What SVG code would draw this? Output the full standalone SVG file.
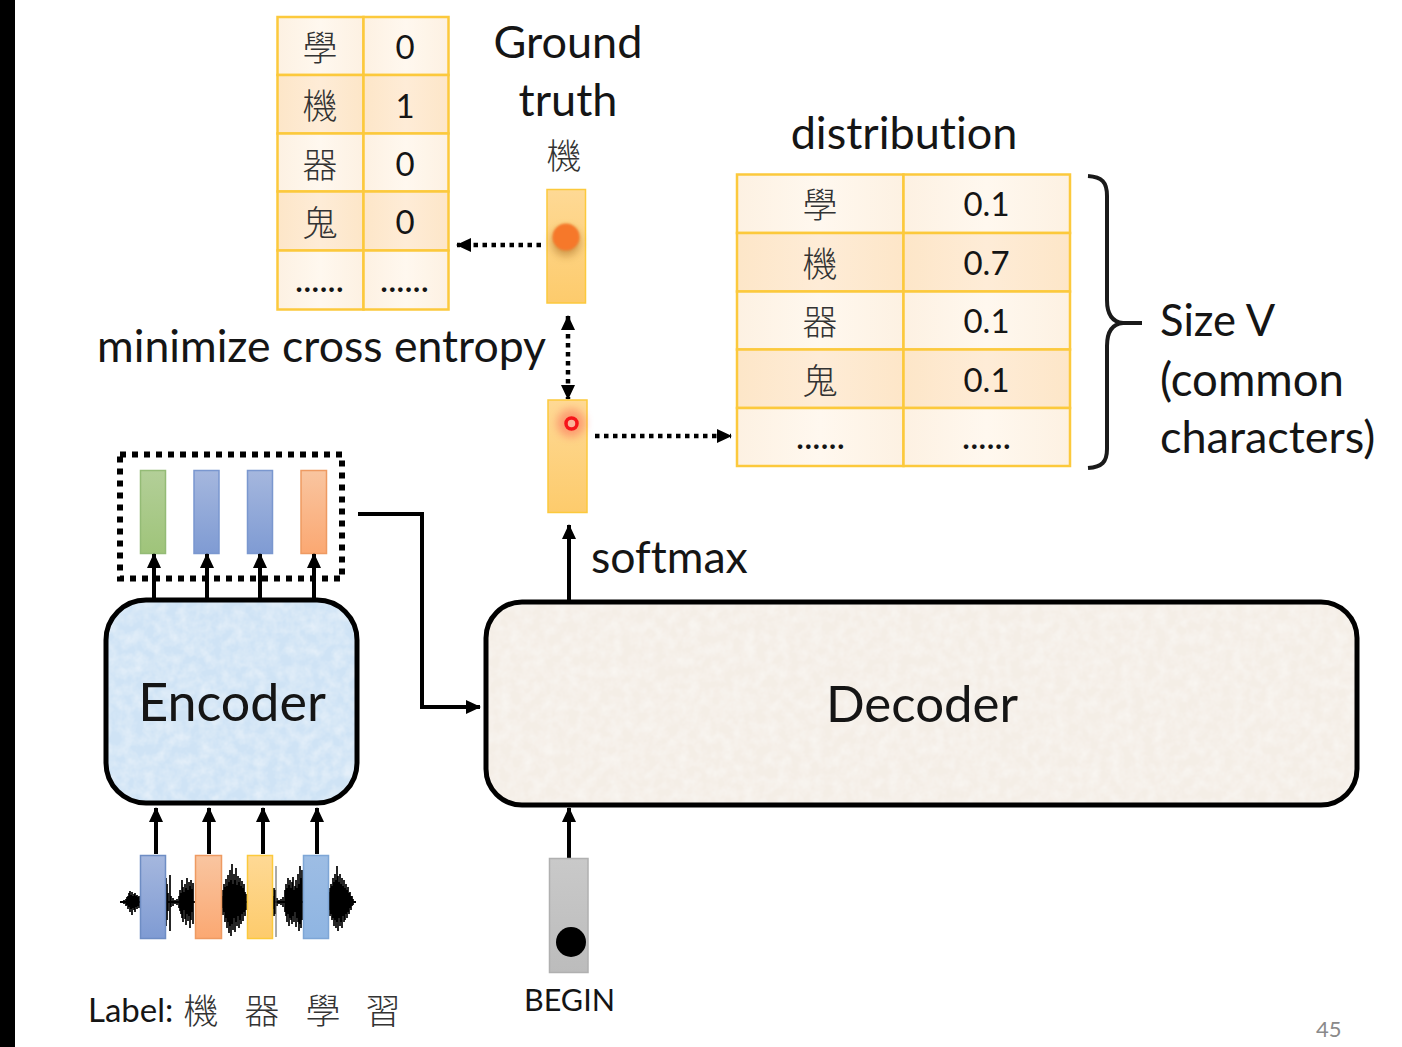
<svg xmlns="http://www.w3.org/2000/svg" width="1402" height="1047" viewBox="0 0 1402 1047">
<style>
text{font-family:"Lato","Liberation Sans","Noto Sans CJK TC",sans-serif;fill:#151515;font-variant-ligatures:none}
.cjk{font-family:"Noto Sans CJK TC",sans-serif;font-weight:300;fill:#333}
.big{font-size:45px}
.c{text-anchor:middle}
.cell{stroke:#fcc93c;stroke-width:2.5}
.lt{fill:url(#rowLight)}.dk{fill:url(#rowDark)}
.num{font-size:33px}.ch{font-size:35px}
.dots{font-size:30px;font-weight:700;letter-spacing:1px}
.box{stroke:#000;stroke-width:5}
.line{fill:none;stroke:#000;stroke-width:4}
.dot{fill:none;stroke:#000;stroke-width:4.500;stroke-dasharray:4.500 4.500}
</style>
<defs>
<linearGradient id="rowLight" x1="0" x2="1"><stop offset="0" stop-color="#fdf1e2"/><stop offset=".5" stop-color="#fff8ef"/><stop offset="1" stop-color="#fdf1e2"/></linearGradient>
<linearGradient id="rowDark" x1="0" x2="1"><stop offset="0" stop-color="#fde6c8"/><stop offset=".5" stop-color="#feecd7"/><stop offset="1" stop-color="#fde6c8"/></linearGradient>
<linearGradient id="gGreen" x1="0" y1="0" x2="0" y2="1"><stop offset="0" stop-color="#b3cf98"/><stop offset="1" stop-color="#9fc47a"/></linearGradient>
<linearGradient id="gBlue" x1="0" y1="0" x2="0" y2="1"><stop offset="0" stop-color="#a5b7de"/><stop offset="1" stop-color="#7f9bd3"/></linearGradient>
<linearGradient id="gSky" x1="0" y1="0" x2="0" y2="1"><stop offset="0" stop-color="#9dbde4"/><stop offset="1" stop-color="#8fb5e2"/></linearGradient>
<linearGradient id="gOrange" x1="0" y1="0" x2="0" y2="1"><stop offset="0" stop-color="#f9c5a0"/><stop offset="1" stop-color="#fba872"/></linearGradient>
<linearGradient id="gYellow" x1="0" y1="0" x2="0" y2="1"><stop offset="0" stop-color="#fed995"/><stop offset="1" stop-color="#fdcb6c"/></linearGradient>
<linearGradient id="gGrey" x1="0" y1="0" x2="0" y2="1"><stop offset="0" stop-color="#c9c9c9"/><stop offset="1" stop-color="#bcbcbc"/></linearGradient>
<filter id="soft" x="-50%" y="-50%" width="200%" height="200%"><feGaussianBlur stdDeviation="4"/></filter>
<filter id="edge" x="-20%" y="-20%" width="140%" height="140%"><feGaussianBlur stdDeviation="1"/></filter>
<filter id="paper" x="0" y="0" width="100%" height="100%">
<feTurbulence type="fractalNoise" baseFrequency=".09" numOctaves="3" seed="4"/>
<feColorMatrix values="0 0 0 0 1 0 0 0 0 1 0 0 0 0 1 .7 0 0 0 -.22"/>
<feComposite in2="SourceGraphic" operator="in" result="n"/>
<feMerge><feMergeNode in="SourceGraphic"/><feMergeNode in="n"/></feMerge>
</filter>
<marker id="tip" markerUnits="userSpaceOnUse" markerWidth="16" markerHeight="14" refX="14" refY="7" orient="auto-start-reverse"><path d="M0 0L15 7L0 14Z" fill="#000"/></marker>
</defs>

<rect width="1402" height="1047" fill="#fff"/>
<rect width="15" height="1047" fill="#000"/>

<g id="speech-wave">
<path d="M120 902H356" stroke="#000" stroke-width="2" fill="none"/>
<path stroke="#000" stroke-width="1.700" fill="none" d="M124 900V904M126 899V906M127 897V905M128 896V909M129 893V907M130 891V912M131 895V909M132 892V915M133 896V908M134 894V910M135 893V912M136 896V907M137 895V909M138 897V906M139 896V908M166 878V926M167 884V920M168 893V911M170 875V931M171 896V907M173 898V906M175 900V904M177 899V905M179 896V908M180 890V911M181 893V914M182 880V918M183 887V922M184 892V910M185 884V919M186 888V925M187 878V914M188 890V921M189 882V916M190 886V928M191 880V920M192 889V912M193 883V924M222 896V908M223 890V915M224 884V912M225 887V922M226 879V918M227 886V928M228 875V922M229 882V933M230 870V926M231 880V936M232 864V924M233 884V930M234 874V918M235 880V932M236 868V922M237 885V926M238 876V916M239 882V928M240 878V920M241 886V924M242 881V914M243 888V921M244 884V912M245 892V916M246 894V910M273 896V909M274 888V916M275 890V914M277 898V906M279 900V904M281 899V905M283 897V907M285 890V912M286 884V916M287 888V922M288 878V914M289 885V926M290 880V918M291 888V920M292 882V924M293 877V916M294 890V922M295 886V912M296 880V927M297 888V918M298 874V922M299 884V931M300 866V924M301 878V928M302 870V920M329 892V910M330 888V916M331 884V914M332 886V920M333 878V918M334 882V926M335 874V920M336 880V928M337 866V922M338 876V931M339 882V918M340 874V926M341 884V922M342 878V928M343 886V916M344 880V922M345 888V920M346 884V914M347 890V918M348 887V912M349 893V914M350 892V908M351 896V910M352 896V906M353 899V905"/>
<path stroke="#555" stroke-width="1" fill="none" d="M276 866V937"/>
</g>

<g id="acoustic-features">
<rect x="140.500" y="855.500" width="25" height="83" fill="url(#gBlue)" stroke="#6e8dc4" stroke-width="1.500"/>
<rect x="195.500" y="855.500" width="26" height="83" fill="url(#gOrange)" stroke="#ee9a62" stroke-width="1.500"/>
<rect x="247.500" y="855.500" width="25" height="83" fill="url(#gYellow)" stroke="#fcc93c" stroke-width="1.500"/>
<rect x="303.500" y="855.500" width="25" height="83" fill="url(#gSky)" stroke="#7ea6d6" stroke-width="1.500"/>
</g>

<g id="encoder">
<rect x="106" y="600" width="251" height="203" rx="40" fill="#cfe3f5" filter="url(#paper)"/>
<rect class="box" x="106" y="600" width="251" height="203" rx="40" fill="none"/>
<text class="c" x="232" y="721" font-size="52">Encoder</text>
</g>

<g id="decoder">
<rect x="486" y="602" width="871" height="203" rx="36" fill="#f4eee6" filter="url(#paper)"/>
<rect class="box" x="486" y="602" width="871" height="203" rx="36" fill="none"/>
<text class="c" x="922" y="722" font-size="51">Decoder</text>
</g>

<g id="encoder-output">
<rect x="120" y="454.500" width="222" height="124" fill="none" stroke="#000" stroke-width="6" stroke-dasharray="6 6"/>
<rect x="140.500" y="470.500" width="25" height="83" fill="url(#gGreen)" stroke="#94bb76" stroke-width="1.500"/>
<rect x="194" y="470.500" width="25" height="83" fill="url(#gBlue)" stroke="#7a97cf" stroke-width="1.500"/>
<rect x="247.500" y="470.500" width="25" height="83" fill="url(#gBlue)" stroke="#7a97cf" stroke-width="1.500"/>
<rect x="301" y="470.500" width="25.500" height="83" fill="url(#gOrange)" stroke="#ee9a62" stroke-width="1.500"/>
</g>

<g id="connectors">
<path class="line" marker-end="url(#tip)" d="M154 599V554"/>
<path class="line" marker-end="url(#tip)" d="M207 599V554"/>
<path class="line" marker-end="url(#tip)" d="M260 599V554"/>
<path class="line" marker-end="url(#tip)" d="M314 599V554"/>
<path class="line" marker-end="url(#tip)" d="M156 854V808"/>
<path class="line" marker-end="url(#tip)" d="M209 854V808"/>
<path class="line" marker-end="url(#tip)" d="M263 854V808"/>
<path class="line" marker-end="url(#tip)" d="M317 854V808"/>
<path class="line" marker-end="url(#tip)" d="M358 514H422V707H480"/>
<path class="line" marker-end="url(#tip)" d="M569 600V525"/>
<path class="line" marker-end="url(#tip)" d="M569 858V808"/>
<path class="dot" marker-end="url(#tip)" d="M541 245H457"/>
<path class="dot" marker-start="url(#tip)" marker-end="url(#tip)" d="M568 316V399"/>
<path class="dot" marker-end="url(#tip)" d="M595 436H731"/>
</g>

<g id="ground-truth-table">
<rect class="cell lt" x="277.500" y="17" width="86" height="58"/><rect class="cell lt" x="363.500" y="17" width="85" height="58"/>
<rect class="cell dk" x="277.500" y="75" width="86" height="58.500"/><rect class="cell dk" x="363.500" y="75" width="85" height="58.500"/>
<rect class="cell lt" x="277.500" y="133.500" width="86" height="58"/><rect class="cell lt" x="363.500" y="133.500" width="85" height="58"/>
<rect class="cell dk" x="277.500" y="191.500" width="86" height="59"/><rect class="cell dk" x="363.500" y="191.500" width="85" height="59"/>
<rect class="cell lt" x="277.500" y="250.500" width="86" height="59"/><rect class="cell lt" x="363.500" y="250.500" width="85" height="59"/>
<text class="cjk ch c" x="320" y="61">學</text><text class="num c" x="405" y="59">0</text>
<text class="cjk ch c" x="320" y="119">機</text><text class="num c" x="405" y="118">1</text>
<text class="cjk ch c" x="320" y="178">器</text><text class="num c" x="405" y="176">0</text>
<text class="cjk ch c" x="320" y="236">鬼</text><text class="num c" x="405" y="234">0</text>
<text class="dots c" x="320" y="292">......</text><text class="dots c" x="405" y="292">......</text>
</g>

<g id="distribution-table">
<rect class="cell lt" x="737" y="174.500" width="166.500" height="58.500"/><rect class="cell lt" x="903.500" y="174.500" width="166.500" height="58.500"/>
<rect class="cell dk" x="737" y="233" width="166.500" height="58.500"/><rect class="cell dk" x="903.500" y="233" width="166.500" height="58.500"/>
<rect class="cell lt" x="737" y="291.500" width="166.500" height="58"/><rect class="cell lt" x="903.500" y="291.500" width="166.500" height="58"/>
<rect class="cell dk" x="737" y="349.500" width="166.500" height="58.500"/><rect class="cell dk" x="903.500" y="349.500" width="166.500" height="58.500"/>
<rect class="cell lt" x="737" y="408" width="166.500" height="58"/><rect class="cell lt" x="903.500" y="408" width="166.500" height="58"/>
<text class="cjk ch c" x="820" y="218">學</text><text class="num c" x="986.500" y="216">0.1</text>
<text class="cjk ch c" x="820" y="277">機</text><text class="num c" x="986.500" y="275">0.7</text>
<text class="cjk ch c" x="820" y="335">器</text><text class="num c" x="986.500" y="333">0.1</text>
<text class="cjk ch c" x="820" y="394">鬼</text><text class="num c" x="986.500" y="392">0.1</text>
<text class="dots c" x="821" y="449">......</text><text class="dots c" x="987" y="449">......</text>
</g>

<g id="ground-truth-vector">
<rect x="547" y="189.500" width="38.500" height="113.500" fill="url(#gYellow)" stroke="#fcc93c" stroke-width="1.500"/>
<circle cx="566" cy="242" r="14" fill="#a86a20" opacity=".55" filter="url(#soft)"/>
<circle cx="566" cy="237" r="13.500" fill="#f6782a" filter="url(#edge)"/>
</g>

<g id="predicted-vector">
<rect x="548" y="400" width="39" height="112.500" fill="url(#gYellow)" stroke="#fcc93c" stroke-width="1.500"/>
<circle cx="571" cy="423" r="14" fill="#fb6a5a" opacity=".55" filter="url(#soft)"/>
<circle cx="571.500" cy="423.500" r="5.500" fill="#fbb39a" stroke="#f6141a" stroke-width="3.500"/>
</g>

<g id="begin-token">
<rect x="549.500" y="858.500" width="38.500" height="114" fill="url(#gGrey)" stroke="#b0b0b0" stroke-width="1.500"/>
<circle cx="571" cy="942" r="15" fill="#000"/>
</g>

<path id="size-brace" fill="none" stroke="#1a1a1a" stroke-width="4" d="M1088 176C1102 177 1107 182 1107 196V300C1107 314 1112 322 1123 323H1142H1123C1112 324 1107 332 1107 346V449C1107 462 1102 467 1088 468"/>

<g id="labels">
<text class="big c" x="568" y="58">Ground</text>
<text class="big c" x="568" y="116">truth</text>
<text class="cjk c" x="564" y="169" font-size="35">機</text>
<text class="big c" x="904" y="149">distribution</text>
<text x="97" y="362" font-size="44.600">minimize cross entropy</text>
<text x="1160" y="336" font-size="43.500">Size V</text>
<text x="1160" y="396" font-size="45.500">(common</text>
<text class="big" x="1160" y="453">characters)</text>
<text x="591" y="573" font-size="44.600">softmax</text>
<text x="524" y="1011" font-size="30.500">BEGIN</text>
<text x="88" y="1022" font-size="33">Label:</text>
<text class="cjk c" x="201" y="1024" font-size="35">機</text>
<text class="cjk c" x="262" y="1024" font-size="35">器</text>
<text class="cjk c" x="323" y="1024" font-size="35">學</text>
<text class="cjk c" x="383" y="1024" font-size="35">習</text>
<text x="1316" y="1037" font-size="22" style="fill:#8a8a8a">45</text>
</g>
</svg>
